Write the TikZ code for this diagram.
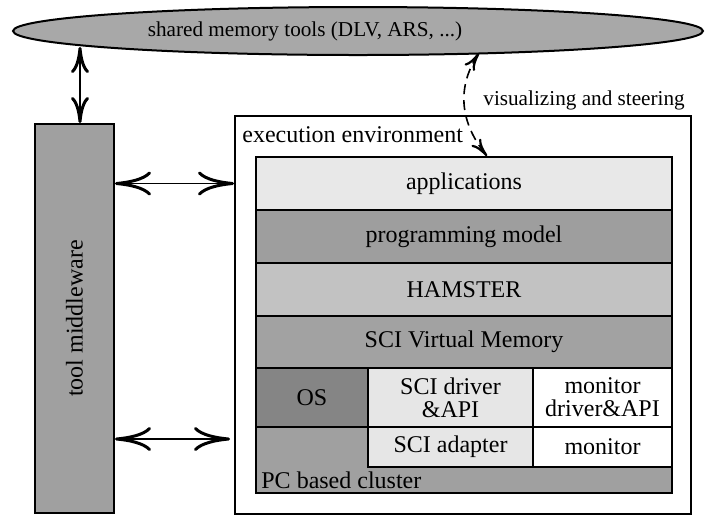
\documentclass[tikz,border=0pt]{standalone}
\usepackage{fontspec}
\setmainfont{Liberation Serif}
\usepackage{graphicx}
\usetikzlibrary{arrows.meta,shapes.geometric}
\definecolor{shmgray}{HTML}{A8A8A8}
\definecolor{mwgray}{HTML}{A0A0A0}
\definecolor{applgray}{HTML}{E8E8E8}
\definecolor{proggray}{HTML}{9E9E9E}
\definecolor{hamgray}{HTML}{C2C2C2}
\definecolor{vmgray}{HTML}{A2A2A2}
\definecolor{osgray}{HTML}{858585}
\definecolor{drvgray}{HTML}{E6E6E6}
\definecolor{pcgray}{HTML}{A0A0A0}
\newcommand{\layerfont}{\fontsize{12}{11.5}\selectfont}
\newcommand{\notefont}{\fontsize{10.6}{12}\selectfont}
\tikzstyle{layer} = [draw, line width=1pt, inner sep=0pt, font=\layerfont, align=center]
\tikzstyle{horarrow} = [line width=0.8pt, {Computer Modern Rightarrow[length=18pt,width=12pt,line width=1.5pt]}-{Computer Modern Rightarrow[length=18pt,width=12pt,line width=1.5pt]}]
\tikzstyle{vertarrow} = [line width=0.8pt, {Computer Modern Rightarrow[length=13pt,width=9pt,line width=1.5pt]}-{Computer Modern Rightarrow[length=13pt,width=9pt,line width=1.5pt]}]
\tikzstyle{visarrow} = [line width=0.8pt, dash pattern=on 5pt off 3pt, {Computer Modern Rightarrow[length=9pt,width=6pt,line width=1.1pt]}-{Computer Modern Rightarrow[length=9pt,width=6pt,line width=1.1pt]}]

\begin{document}
\begin{tikzpicture}[x=0.5pt,y=-0.5pt]
    \useasboundingbox (0,0) rectangle (707,516);
    % tools on top
    \node[ellipse, draw, line width=1pt, fill=shmgray, minimum width=345pt, minimum height=24pt, inner sep=0pt] (shm) at (358,31) {};
    \node[font=\notefont] (shmtext) at ([xshift=-26.5pt]shm.center) {shared memory tools (DLV, ARS, ...)};
    \node[layer, fill=mwgray, minimum width=39.5pt, minimum height=194.5pt] (mw) at (74.5,318.5) {\rotatebox{90}{tool middleware}};
    % execution environment
    \node[layer, fill=white, minimum width=228pt, minimum height=199pt] (env) at (463,315) {};
    \node[anchor=base west, font=\layerfont, inner sep=0pt] (envlabel) at ([shift={(8,27)}]env.north west) {execution environment};
    \node[layer, fill=applgray, minimum width=208pt, minimum height=26.5pt] (appl) at (464,183.5) {applications};
    \node[layer, fill=proggray, minimum width=208pt, minimum height=26.5pt] (prog) at (464,236.5) {programming model};
    \node[layer, fill=hamgray, minimum width=208pt, minimum height=26.5pt] (ham) at (464,289.5) {HAMSTER};
    \node[layer, fill=vmgray, minimum width=208pt, minimum height=26pt] (scivm) at (464,342) {SCI Virtual Memory};
    \node[layer, fill=pcgray, minimum width=208pt, minimum height=62.5pt] (pc) at (464,430.5) {};
    \node[anchor=base west, font=\layerfont, inner sep=0pt] (pclabel) at ([shift={(6,-6)}]pc.south west) {PC based cluster};
    \node[layer, fill=osgray, minimum width=56pt, minimum height=29.5pt] (os) at (312,397.5) {OS};
    \node[layer, fill=drvgray, minimum width=82.5pt, minimum height=29.5pt] (scidrv) at (450.5,397.5) {SCI driver\\\&API};
    \node[layer, fill=white, minimum width=69.5pt, minimum height=29.5pt] (mondrv) at (602.5,397.5) {monitor\\driver\&API};
    \node[layer, fill=drvgray, minimum width=82.5pt, minimum height=20pt] (sciad) at (450.5,447) {SCI adapter};
    \node[layer, fill=white, minimum width=69.5pt, minimum height=20pt] (mon) at (602.5,447) {monitor};
    % connectors
    \coordinate (mwtop) at (80,47);
    \coordinate (lowend) at (230,439);
    \coordinate (vistop) at (479,53);
    \coordinate (visbot) at (487,157);
    \draw[vertarrow] (mwtop) -- (mwtop |- mw.north);
    \draw[horarrow] (mw.east |- appl.west) -- (env.west |- appl.west);
    \draw[horarrow] (mw.east |- lowend) -- (lowend);
    \draw[visarrow] (vistop) .. controls (455,90) and (462,125) .. (visbot |- appl.north);
    \node[anchor=base west, font=\notefont, inner sep=0pt] (vislabel) at (483,105) {visualizing and steering};
\end{tikzpicture}
\end{document}
